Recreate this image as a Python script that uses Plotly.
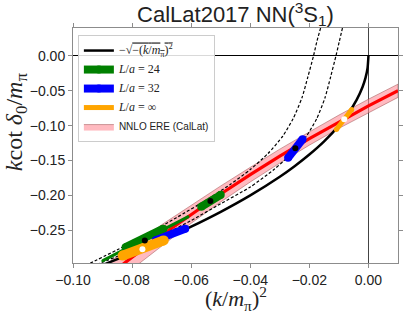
import plotly.graph_objects as go

# ---------------- data ----------------
# -sqrt(-(k/m_pi)^2) curve
sq_x = [-0.1, -0.09, -0.08, -0.07, -0.06, -0.05, -0.04, -0.03, -0.025, -0.02,
        -0.015, -0.01, -0.007, -0.004, -0.002, -0.001, -0.0003, 0.0]
sq_y = [-0.3162, -0.3, -0.2828, -0.2646, -0.2449, -0.2236, -0.2, -0.1732, -0.1581,
        -0.1414, -0.1225, -0.1, -0.0837, -0.0632, -0.0447, -0.0316, -0.0173, 0.0]

# NNLO ERE (CalLat) central line and band half-width
ere_x = [-0.1, -0.09, -0.08, -0.07, -0.06, -0.05, -0.04, -0.03, -0.02, -0.01, 0.0, 0.01]
ere_y = [-0.355, -0.3213, -0.2886, -0.2572, -0.227, -0.198, -0.1703, -0.1437,
         -0.1185, -0.0944, -0.0716, -0.050]
ere_err = [0.021, 0.019, 0.017, 0.015, 0.013, 0.0115, 0.0105, 0.010, 0.0095,
           0.0095, 0.0095, 0.0095]

# finite-volume quantization curves (dashed)
fv24_x = [-0.0162, -0.0175, -0.0186, -0.0205, -0.0225, -0.0255, -0.029, -0.034,
          -0.040, -0.047, -0.055, -0.065, -0.075, -0.085, -0.095]
fv24_y = [0.04, 0.02, 0.0, -0.03, -0.06, -0.09, -0.115, -0.14, -0.163, -0.185,
          -0.207, -0.232, -0.256, -0.278, -0.299]
fv32_x = [-0.0088, -0.0099, -0.011, -0.0128, -0.0147, -0.0175, -0.021, -0.026,
          -0.032, -0.040, -0.050, -0.060, -0.070, -0.080, -0.092]
fv32_y = [0.04, 0.02, 0.0, -0.03, -0.06, -0.09, -0.115, -0.14, -0.163, -0.188,
          -0.212, -0.236, -0.258, -0.279, -0.299]

# lattice points: (segment start, segment end) and centres
l24_thick = [((-0.0566, -0.2163), (-0.0500, -0.1993)),
             ((-0.0822, -0.2743), (-0.0694, -0.2478))]
l24_thin = [((-0.0899, -0.2936), (-0.0611, -0.2308))]
l24_cx = [-0.0535, -0.0757]
l24_cy = [-0.208, -0.2646]

l32_thick = [((-0.0272, -0.1462), (-0.0223, -0.1195)),
             ((-0.0720, -0.2642), (-0.0620, -0.2478))]
l32_cx = [-0.02475]
l32_cy = [-0.1325]

linf_seg = [((-0.01086, -0.1055), (-0.00565, -0.0769)),
            ((-0.0832, -0.2864), (-0.0693, -0.2646))]
linf_w = [5, 10]
linf_cx = [-0.0082, -0.0765]
linf_cy = [-0.091, -0.2772]

x_ticks = [-0.10, -0.08, -0.06, -0.04, -0.02, 0.00]
y_ticks = [0.00, -0.05, -0.10, -0.15, -0.20, -0.25]

# ---------------- figure ----------------
SERIF = "Liberation Serif"
fig = go.Figure()

band_x = ere_x + ere_x[::-1]
band_y = [y + e for y, e in zip(ere_y, ere_err)] + \
         [y - e for y, e in zip(ere_y[::-1], ere_err[::-1])]
fig.add_trace(go.Scatter(x=band_x, y=band_y, fill="toself", mode="lines",
                         fillcolor="rgba(255,140,150,0.6)",
                         line=dict(color="rgba(150,70,70,0.6)", width=0.8),
                         name="NNLO ERE (CalLat)", legendrank=5))
fig.add_trace(go.Scatter(x=ere_x, y=ere_y, mode="lines", line=dict(color="red", width=3.2),
                         showlegend=False))
fig.add_trace(go.Scatter(x=sq_x, y=sq_y, mode="lines",
                         line=dict(color="black", width=2.5, shape="spline", smoothing=0.6),
                         name="<span style='font-family:Liberation Serif;font-size:12px'>−√<span style='text-decoration:overline'>−(<i>k</i>/<i>m</i><sub>π</sub>)<sup>2</sup></span></span>",
                         legendrank=1))
for xs, ys in [(fv24_x, fv24_y), (fv32_x, fv32_y)]:
    fig.add_trace(go.Scatter(x=xs, y=ys, mode="lines",
                             line=dict(color="black", width=1.2, dash="3px,2px",
                                       shape="spline", smoothing=0.6),
                             showlegend=False))

def seg(p, color, w, name=None, rank=None):
    (x0, y0), (x1, y1) = p
    fig.add_trace(go.Scatter(x=[x0, x1], y=[y0, y1], mode="lines+markers",
                             line=dict(color=color, width=w),
                             marker=dict(color=color, size=w, line=dict(width=0)),
                             name=name, showlegend=name is not None,
                             legendrank=rank if rank else 1000))

def lab(v):
    return ("<span style='font-family:Liberation Serif;font-size:12px'>"
            f"<i>L</i>/<i>a</i> = {v}</span>")

for p in l24_thin:
    seg(p, "green", 3)
for i, p in enumerate(l24_thick):
    seg(p, "green", 8, lab("24") if i == 0 else None, 2)
for i, p in enumerate(l32_thick):
    seg(p, "blue", 8, lab("32") if i == 0 else None, 3)
for i, p in enumerate(linf_seg):
    seg(p, "orange", linf_w[i], lab("∞") if i == 0 else None, 4)

fig.add_trace(go.Scatter(x=l24_cx + l32_cx, y=l24_cy + l32_cy, mode="markers",
                         marker=dict(color="black", size=6), showlegend=False))
fig.add_trace(go.Scatter(x=linf_cx, y=linf_cy, mode="markers",
                         marker=dict(color="white", size=6), showlegend=False))

axis_common = dict(showline=True, linecolor="#8c8c8c", linewidth=1, mirror="allticks",
                   ticks="outside", ticklen=4, tickcolor="#8c8c8c", showgrid=False,
                   tickfont=dict(family="Liberation Sans", size=14, color="#222"))
fig.update_xaxes(range=[-0.1, 0.01], tickvals=x_ticks,
                 ticktext=[f"{v:.2f}".replace("-", "−") for v in x_ticks],
                 zeroline=True, zerolinecolor="#444", zerolinewidth=1.3,
                 **axis_common)
fig.update_yaxes(range=[-0.297, 0.04], tickvals=y_ticks,
                 ticktext=[f"{v:.2f}".replace("-", "−") for v in y_ticks],
                 zeroline=True, zerolinecolor="black", zerolinewidth=1,
                 **axis_common)

# axis labels placed as in the reference
fig.add_annotation(text="(<i>k</i>/<i>m</i><sub>π</sub>)<sup>2</sup>",
                   xref="paper", yref="paper", x=0.5, y=-0.152,
                   xanchor="center", yanchor="middle", showarrow=False,
                   font=dict(family=SERIF, size=22, color="#222"))
fig.add_annotation(text="<i>k</i>cot <i>δ</i><sub>0</sub>/<i>m</i><sub>π</sub>",
                   xref="paper", yref="paper", x=-0.175, y=0.60, textangle=-90,
                   xanchor="center", yanchor="middle", showarrow=False,
                   font=dict(family=SERIF, size=24, color="#222"))

fig.update_layout(
    width=407, height=315,
    margin=dict(l=73, r=4, t=28, b=52),
    plot_bgcolor="white", paper_bgcolor="white",
    title=dict(text="CalLat2017 NN(<sup>3</sup>S<sub>1</sub>)", xref="paper", x=0.5,
               xanchor="center", yref="container", y=0.955, yanchor="middle",
               font=dict(family="Liberation Sans", size=22, color="#222")),
    legend=dict(x=0.015, y=0.97, xanchor="left", yanchor="top",
                bgcolor="rgba(255,255,255,0.85)", bordercolor="#cccccc", borderwidth=1,
                font=dict(family="Liberation Sans", size=10, color="#222"),
                tracegroupgap=0, itemwidth=30),
)

fig.write_html("out.html", config={"displayModeBar": False},
               post_script="document.body.style.margin='0';")
